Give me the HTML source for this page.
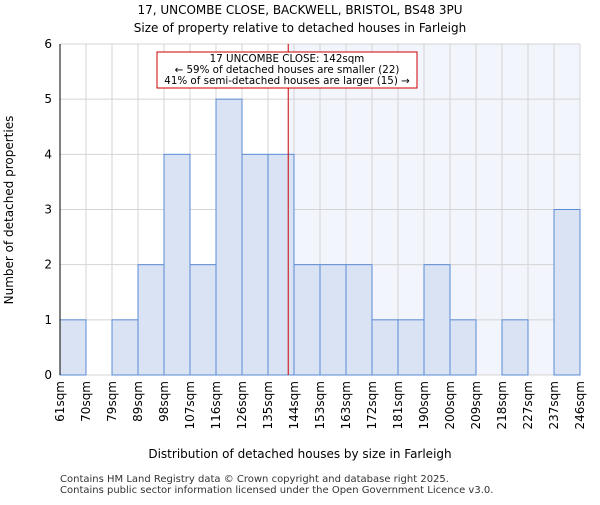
<!DOCTYPE html>
<html><head><meta charset="utf-8"><style>body{margin:0;background:#fff}svg{font-family:"DejaVu Sans","Liberation Sans",sans-serif}</style></head><body>
<svg id="c" width="600" height="500" xmlns="http://www.w3.org/2000/svg">
<text x="300" y="14" font-size="12" text-anchor="middle">17, UNCOMBE CLOSE, BACKWELL, BRISTOL, BS48 3PU</text>
<text x="300" y="32" font-size="12" text-anchor="middle">Size of property relative to detached houses in Farleigh</text>
<g id="plot"></g>
<text x="300" y="458" font-size="12" text-anchor="middle">Distribution of detached houses by size in Farleigh</text>
<text transform="translate(13,210) rotate(-90)" font-size="12" text-anchor="middle">Number of detached properties</text>
<text x="60" y="482" font-size="10" fill="#333">Contains HM Land Registry data © Crown copyright and database right 2025.</text>
<text x="60" y="493" font-size="10" fill="#333">Contains public sector information licensed under the Open Government Licence v3.0.</text>
</svg>
<script>
const categories=["61sqm","70sqm","79sqm","89sqm","98sqm","107sqm","116sqm","126sqm","135sqm","144sqm","153sqm","163sqm","172sqm","181sqm","190sqm","200sqm","209sqm","218sqm","227sqm","237sqm","246sqm"];
const counts=[1,0,1,2,4,2,5,4,4,2,2,2,1,1,2,1,0,1,0,3];
const yTicks=[0,1,2,3,4,5,6];
const marker=142;
const NS="http://www.w3.org/2000/svg";
const g=document.getElementById('plot');
const L=60,R=580,T=44,B=375,n=counts.length,bw=(R-L)/n;
const x=i=>L+i*bw;
const y=v=>B-(B-T)*v/6;
function mk(t,a){const e=document.createElementNS(NS,t);for(const k in a)e.setAttribute(k,a[k]);g.appendChild(e);return e;}
const mi=categories.findIndex((c,i)=>i<categories.length-1&&parseFloat(categories[i+1])>marker);
const mx=x(mi)+bw*(marker-parseFloat(categories[mi]))/(parseFloat(categories[mi+1])-parseFloat(categories[mi]));
let sh=mk('rect',{x:mx,y:T,width:R-mx,height:B-T,fill:'#f3f5fc'});


for(let i=0;i<=n;i++){let l=mk('line',{x1:x(i),x2:x(i),y1:T,y2:B,stroke:'#d4d4d4'});

}
yTicks.forEach(v=>{let l=mk('line',{x1:L,x2:R,y1:y(v),y2:y(v),stroke:'#d4d4d4'});


let t=mk('text',{x:L-8,y:y(v)+4,'font-size':12,'text-anchor':'end'});t.textContent=v;

});
counts.forEach((c,i)=>{if(!c)return;let r=mk('rect',{x:x(i),y:y(c),width:bw,height:B-y(c),fill:'#dae3f3',stroke:'#5b8bd5','stroke-width':1});

});
categories.forEach((c,i)=>{let t=mk('text',{transform:`translate(${x(i)+4},381) rotate(-90)`,'font-size':12,'text-anchor':'end'});t.textContent=c;

});
let ax=mk('line',{x1:L,x2:L,y1:T,y2:B,stroke:'#000'});


let ml=mk('line',{x1:mx,x2:mx,y1:T,y2:B,stroke:'#c00','stroke-width':1});


let bx=mk('rect',{x:157,y:52,width:260,height:36,fill:'#fff',stroke:'#c00'});


["17 UNCOMBE CLOSE: 142sqm","← 59% of detached houses are smaller (22)","41% of semi-detached houses are larger (15) →"].forEach((s,i)=>{let t=mk('text',{x:287,y:62+i*11,'font-size':10.3,'text-anchor':'middle'});t.textContent=s;

});
</script>
</body></html>
